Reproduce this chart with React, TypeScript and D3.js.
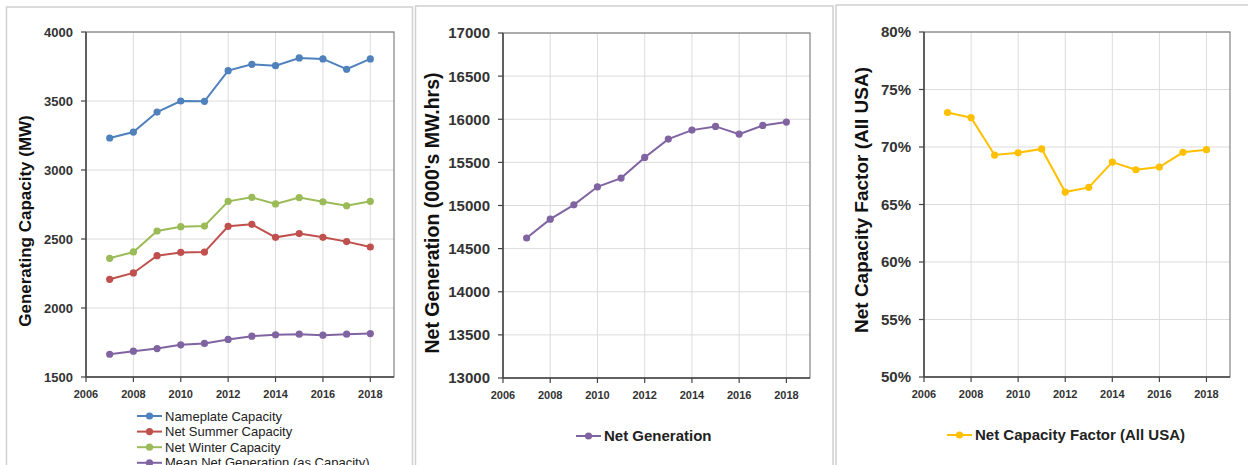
import React from "react";
import * as d3 from "d3";

const years = [2007, 2008, 2009, 2010, 2011, 2012, 2013, 2014, 2015, 2016, 2017, 2018];
const xTicks = [2006, 2008, 2010, 2012, 2014, 2016, 2018];

const nameplate = [3232, 3275, 3420, 3500, 3498, 3720, 3766, 3756, 3812, 3805, 3730, 3805];
const netSummer = [2208, 2254, 2379, 2403, 2405, 2592, 2606, 2512, 2539, 2512, 2481, 2442];
const netWinter = [2360, 2406, 2558, 2589, 2594, 2773, 2802, 2754, 2800, 2770, 2741, 2773];
const meanNetGen = [1665, 1687, 1706, 1733, 1743, 1772, 1796, 1806, 1810, 1803, 1810, 1815];
const capTicks = [1500, 2000, 2500, 3000, 3500, 4000];

const netGeneration = [14623, 14842, 15008, 15217, 15318, 15557, 15770, 15874, 15917, 15828, 15928, 15967];
const genTicks = [13000, 13500, 14000, 14500, 15000, 15500, 16000, 16500, 17000];

const capacityFactor = [0.73, 0.7255, 0.693, 0.695, 0.6983, 0.6608, 0.6649, 0.6869, 0.6802, 0.6826, 0.6954, 0.6977];
const cfTicks = [0.5, 0.55, 0.6, 0.65, 0.7, 0.75, 0.8];

const FONT = "'Liberation Sans', Arial, sans-serif";

type Series = { name: string; color: string; values: number[] };

type PanelProps = {
  frame: { x: number; y: number; w: number; h: number };
  plot: { left: number; top: number; right: number; bottom: number };
  yTicks: number[];
  yFormat: (v: number) => string;
  yFontSize: number;
  title: string;
  titleX: number;
  titleY: number;
  titleSize: number;
  series: Series[];
  legend: { x: number; y: number; dy: number; fontSize: number; weight: string; centered?: boolean };
};

function Panel(p: PanelProps) {
  const x = d3.scaleLinear().domain([2006, 2019]).range([p.plot.left, p.plot.right]);
  const y = d3
    .scaleLinear()
    .domain([p.yTicks[0], p.yTicks[p.yTicks.length - 1]])
    .range([p.plot.bottom, p.plot.top]);
  const line = d3
    .line<number>()
    .x((_, i) => x(years[i]))
    .y((d) => y(d));
  return (
    <g>
      <rect x={p.frame.x} y={p.frame.y} width={p.frame.w} height={p.frame.h} fill="#fff" stroke="#d0d0d0" strokeWidth={1.5} />
      {/* grid */}
      {xTicks.slice(1).map((t) => (
        <line key={"vx" + t} x1={x(t)} x2={x(t)} y1={p.plot.top} y2={p.plot.bottom} stroke="#dcdcdc" strokeWidth={1} />
      ))}
      {p.yTicks.slice(1).map((t) => (
        <line key={"hy" + t} x1={p.plot.left} x2={p.plot.right} y1={y(t)} y2={y(t)} stroke="#dcdcdc" strokeWidth={1} />
      ))}
      <rect
        x={p.plot.left}
        y={p.plot.top}
        width={p.plot.right - p.plot.left}
        height={p.plot.bottom - p.plot.top}
        fill="none"
        stroke="#6a6a6a"
        strokeWidth={1}
      />
      {/* axes */}
      <line x1={p.plot.left} x2={p.plot.left} y1={p.plot.top} y2={p.plot.bottom} stroke="#444" strokeWidth={1.5} />
      <line x1={p.plot.left} x2={p.plot.right} y1={p.plot.bottom} y2={p.plot.bottom} stroke="#444" strokeWidth={1.5} />
      {xTicks.map((t) => (
        <g key={"xt" + t}>
          <line x1={x(t)} x2={x(t)} y1={p.plot.bottom} y2={p.plot.bottom + 5} stroke="#444" strokeWidth={1.2} />
          <text x={x(t)} y={p.plot.bottom + 21} textAnchor="middle" fontFamily={FONT} fontSize={11} fontWeight="bold" fill="#333">
            {t}
          </text>
        </g>
      ))}
      {p.yTicks.map((t) => (
        <g key={"yt" + t}>
          <line x1={p.plot.left - 5} x2={p.plot.left} y1={y(t)} y2={y(t)} stroke="#444" strokeWidth={1.2} />
          <text
            x={p.plot.left - 13}
            y={y(t)}
            dy="0.36em"
            textAnchor="end"
            fontFamily={FONT}
            fontSize={p.yFontSize}
            fontWeight="bold"
            fill="#333"
          >
            {p.yFormat(t)}
          </text>
        </g>
      ))}
      <text
        transform={`translate(${p.titleX},${p.titleY}) rotate(-90)`}
        textAnchor="middle"
        dy="0.35em"
        fontFamily={FONT}
        fontSize={p.titleSize}
        fontWeight="bold"
        fill="#111"
      >
        {p.title}
      </text>
      {p.series.map((s) => (
        <g key={s.name}>
          <path d={line(s.values) || ""} fill="none" stroke={s.color} strokeWidth={2} />
          {s.values.map((v, i) => (
            <circle key={i} cx={x(years[i])} cy={y(v)} r={3.6} fill={s.color} />
          ))}
        </g>
      ))}
      {p.series.map((s, i) => {
        const ly = p.legend.y + i * p.legend.dy;
        return (
          <g key={"lg" + s.name}>
            <line x1={p.legend.x} x2={p.legend.x + 25} y1={ly} y2={ly} stroke={s.color} strokeWidth={2} />
            <circle cx={p.legend.x + 12.5} cy={ly} r={3.6} fill={s.color} />
            <text
              x={p.legend.x + 28}
              y={ly}
              dy="0.36em"
              fontFamily={FONT}
              fontSize={p.legend.fontSize}
              fontWeight={p.legend.weight}
              fill="#222"
            >
              {s.name}
            </text>
          </g>
        );
      })}
    </g>
  );
}

export default function App() {
  const fmt = (v: number) => String(v);
  const pct = d3.format(".0%");
  return (
    <svg
      width={1248}
      height={465}
      style={{ position: "absolute", left: 0, top: 0, background: "#fff" }}
      viewBox="0 0 1248 465"
    >
      <rect x={0} y={0} width={1248} height={465} fill="#fff" />
      <Panel
        frame={{ x: 6.5, y: 7, w: 406, h: 470 }}
        plot={{ left: 86, top: 32, right: 394, bottom: 377 }}
        yTicks={capTicks}
        yFormat={fmt}
        yFontSize={13}
        title="Generating Capacity (MW)"
        titleX={25}
        titleY={221}
        titleSize={17}
        series={[
          { name: "Nameplate Capacity", color: "#4F81BD", values: nameplate },
          { name: "Net Summer Capacity", color: "#C0504D", values: netSummer },
          { name: "Net Winter Capacity", color: "#9BBB59", values: netWinter },
          { name: "Mean Net Generation (as Capacity)", color: "#8064A2", values: meanNetGen },
        ]}
        legend={{ x: 137, y: 416, dy: 15.6, fontSize: 13, weight: "normal" }}
      />
      <Panel
        frame={{ x: 415.5, y: 6, w: 417.5, h: 470 }}
        plot={{ left: 503, top: 33, right: 810, bottom: 378 }}
        yTicks={genTicks}
        yFormat={fmt}
        yFontSize={15}
        title="Net Generation (000's MW.hrs)"
        titleX={432}
        titleY={213}
        titleSize={19.5}
        series={[{ name: "Net Generation", color: "#8064A2", values: netGeneration }]}
        legend={{ x: 576, y: 436, dy: 16, fontSize: 15, weight: "bold" }}
      />
      <Panel
        frame={{ x: 836, y: 5, w: 420, h: 470 }}
        plot={{ left: 924, top: 32, right: 1230, bottom: 377 }}
        yTicks={cfTicks}
        yFormat={(v) => pct(v)}
        yFontSize={15}
        title="Net Capacity Factor (All USA)"
        titleX={861}
        titleY={200}
        titleSize={19}
        series={[{ name: "Net Capacity Factor (All USA)", color: "#FFC000", values: capacityFactor }]}
        legend={{ x: 947, y: 435, dy: 16, fontSize: 15, weight: "bold" }}
      />
    </svg>
  );
}
